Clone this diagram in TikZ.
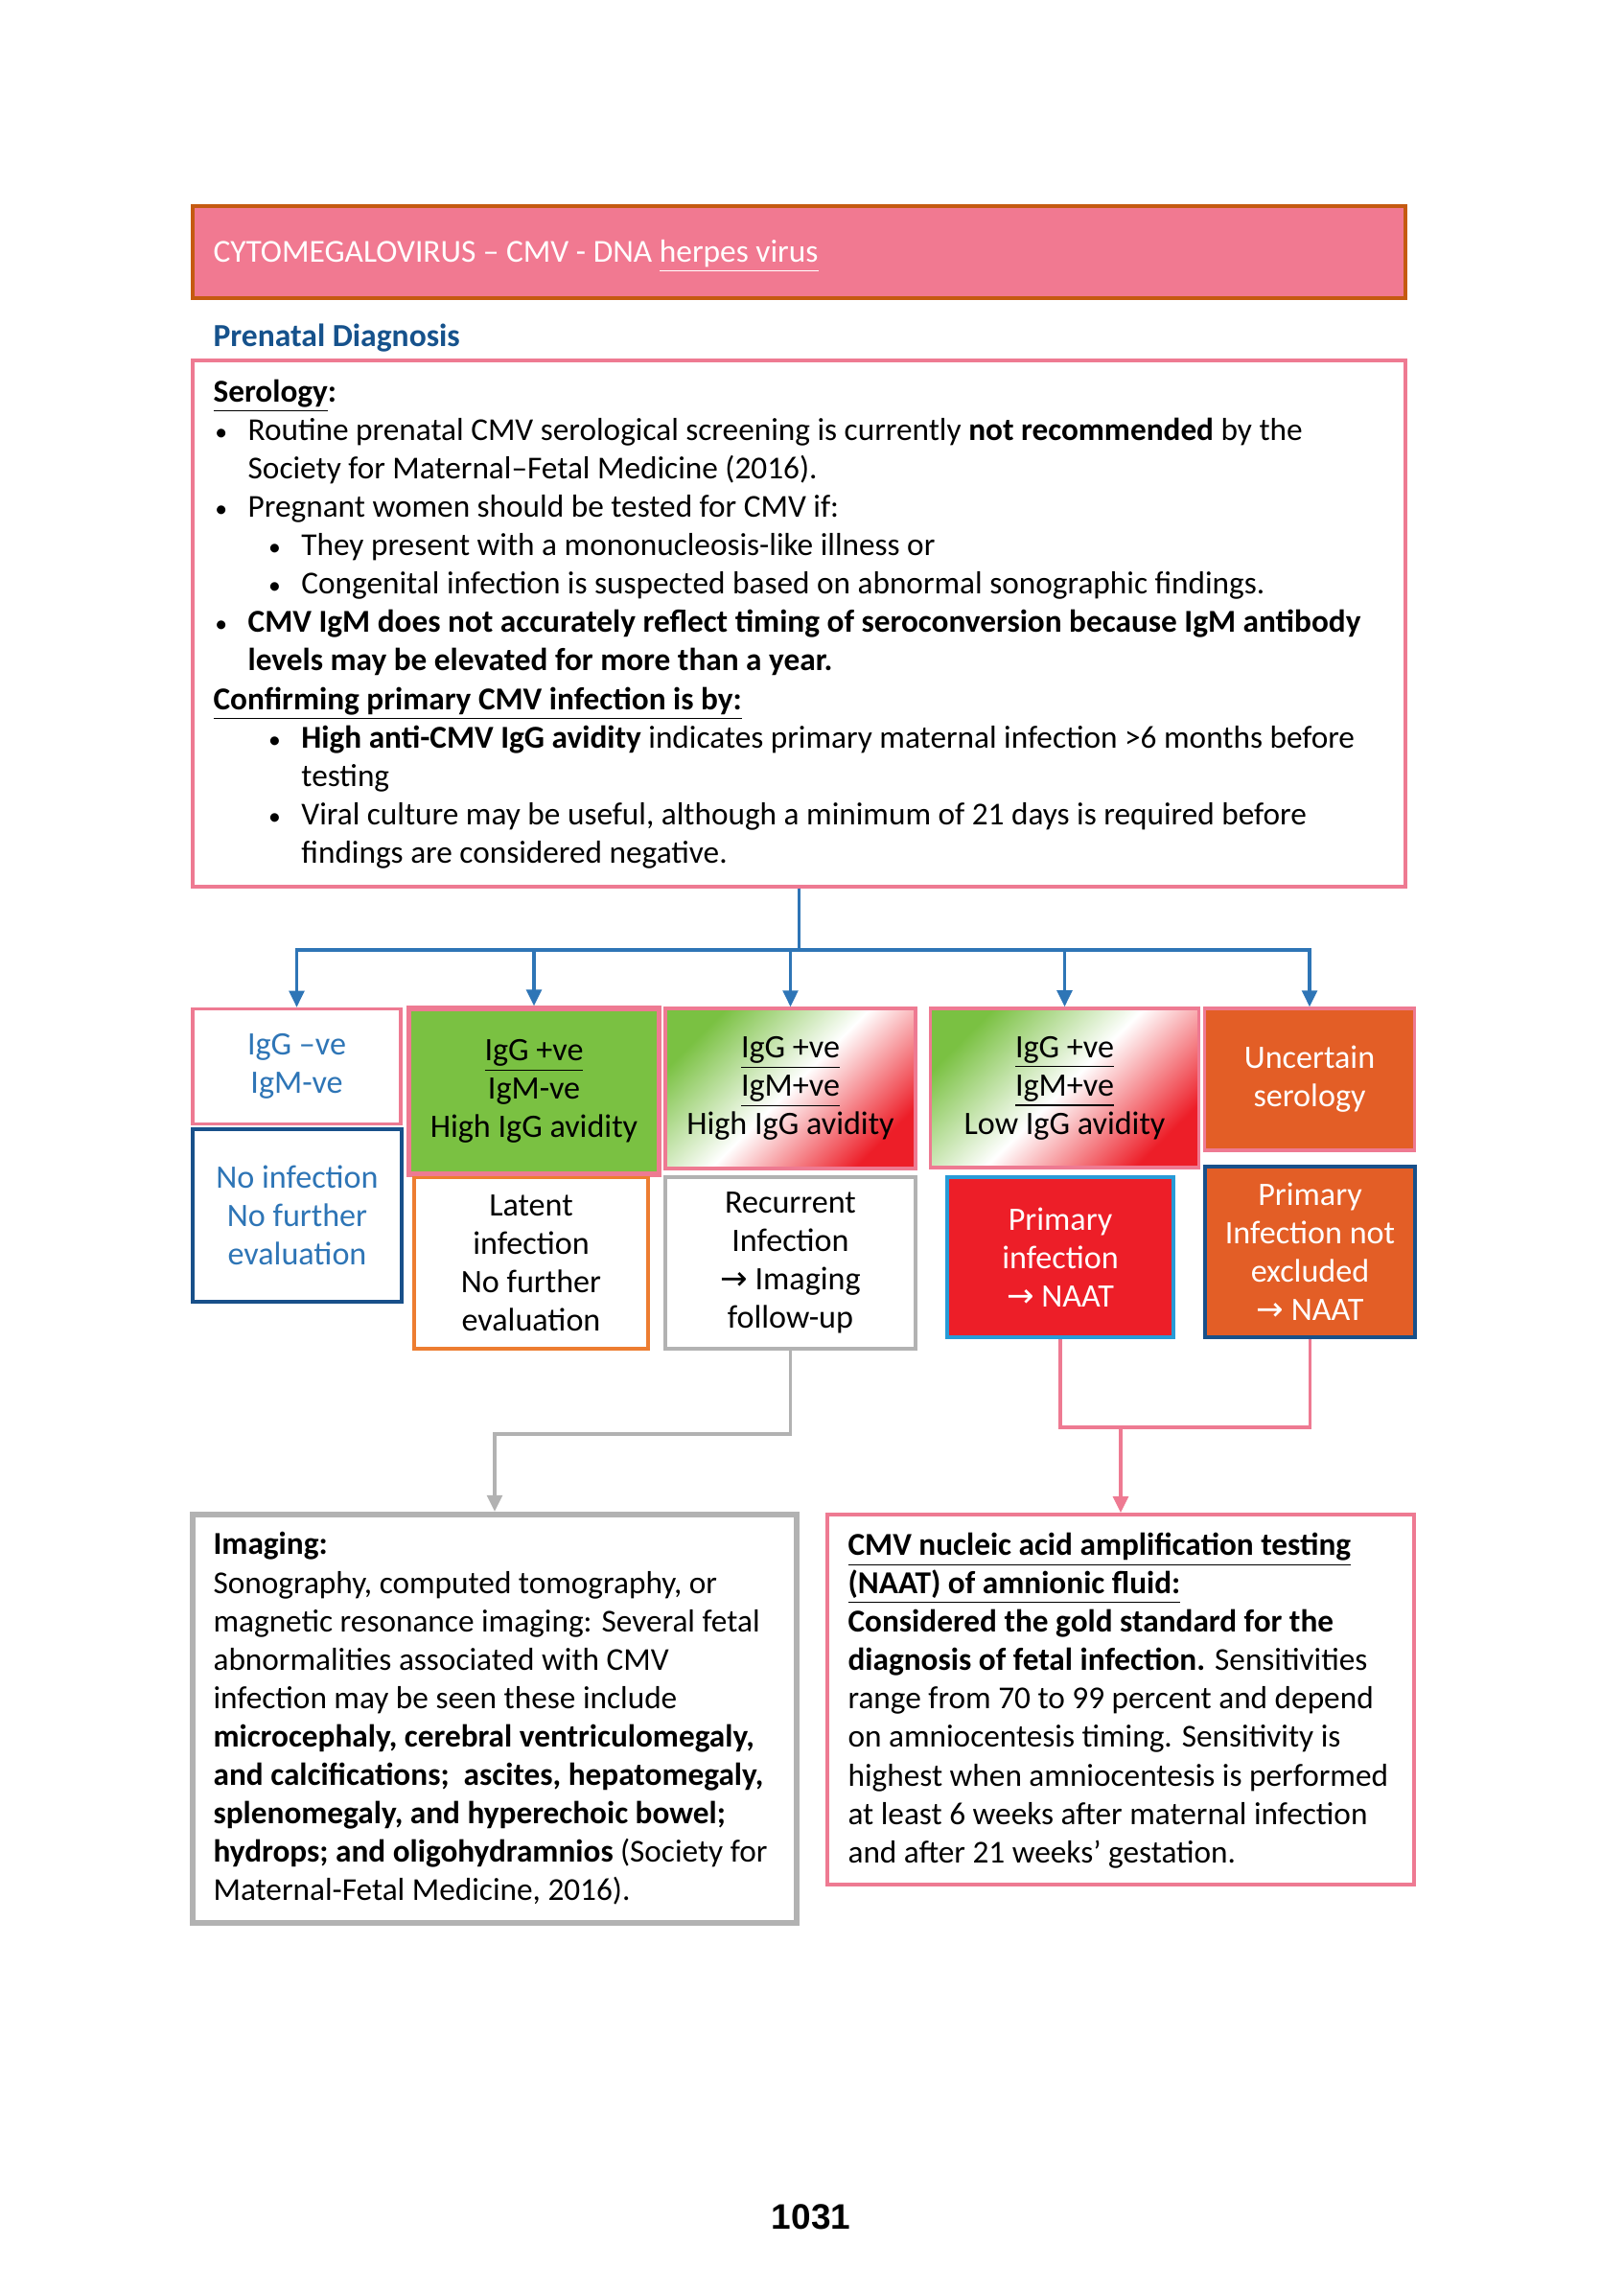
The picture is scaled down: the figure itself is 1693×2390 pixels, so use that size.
\documentclass[tikz,border=0pt]{standalone}
\usepackage{fontspec}
\setmainfont{Carlito}
\newfontfamily\arrowfont{DejaVu Sans}
\newfontfamily\pagefont{Liberation Sans}
\usetikzlibrary{arrows.meta}

\definecolor{titlepink}{RGB}{241,121,145}
\definecolor{titleedge}{RGB}{197,90,17}
\definecolor{headblue}{RGB}{22,82,140}
\definecolor{boxpink}{RGB}{238,122,146}
\definecolor{linkblue}{RGB}{46,117,182}
\definecolor{navy}{RGB}{24,80,138}
\definecolor{skyblue}{RGB}{40,155,215}
\definecolor{lime}{RGB}{122,193,66}
\definecolor{alertred}{RGB}{237,30,40}
\definecolor{burnt}{RGB}{227,94,38}
\definecolor{amber}{RGB}{237,125,49}
\definecolor{ash}{RGB}{178,178,178}

% bullets and indents for the serology text
\newcommand{\bdot}{{\fontsize{9}{9}\selectfont •}}
\newcommand{\bul}{\hspace*{0.6pt}\makebox[12.1pt][l]{\bdot}}
\newcommand{\sbul}{\hspace*{20.2pt}\makebox[12.1pt][l]{\bdot}}
\newcommand{\ind}{\hspace*{12.7pt}}
\newcommand{\sind}{\hspace*{32.3pt}}
\newcommand{\arr}{{\arrowfont →}}

\begin{document}
\begin{tikzpicture}[x=0.35161pt, y=-0.35161pt, >={Triangle[length=6pt,width=5.5pt]},
  flowbox/.style={draw, inner sep=0pt, align=center, font=\fontsize{12}{14.1}\selectfont},
  bodytext/.style={anchor=west, align=left, inner sep=0pt, font=\fontsize{11.7}{14.1}\selectfont},
  mixbox/.style={flowbox, draw=boxpink, line width=1.2pt, top color=lime, bottom color=alertred, middle color=white, shading angle=45},
  blueflow/.style={line width=1.2pt, color=linkblue},
  grayflow/.style={line width=1.3pt, color=ash},
  pinkflow/.style={line width=1.3pt, color=boxpink}]

\path[use as bounding box, fill=white] (0,0) rectangle (1693,2390);

% heading
\node[draw=titleedge, line width=1.3pt, fill=titlepink, minimum width=444.8pt, minimum height=33.8pt] (title) at (833.5,263) {};
\node[bodytext, text=white, font=\fontsize{11.75}{14.1}\selectfont] (titletxt) at (222,267) {CYTOMEGALOVIRUS – CMV - DNA \underline{herpes virus}};
\node[bodytext, text=headblue, font=\fontsize{11.8}{14.1}\selectfont\bfseries] (prenatal) at (222,353) {Prenatal Diagnosis};

% serology box
\node[draw=boxpink, line width=1.4pt, minimum width=444.8pt, minimum height=193pt] (sero) at (833.5,650.5) {};
\node[bodytext] (serotxt) at (222,651) {%
\underline{\textbf{Serology}}\textbf{:}\\
\bul Routine prenatal CMV serological screening is currently \textbf{not recommended} by the\\
\ind Society for Maternal–Fetal Medicine (2016).\\
\bul Pregnant women should be tested for CMV if:\\
\sbul They present with a mononucleosis-like illness or\\
\sbul Congenital infection is suspected based on abnormal sonographic findings.\\
\bul\textbf{CMV IgM does not accurately reflect timing of seroconversion because IgM antibody}\\
\ind\textbf{levels may be elevated for more than a year.}\\
\underline{\textbf{Confirming primary CMV infection is by:}}\\
\sbul\textbf{High anti-CMV IgG avidity} indicates primary maternal infection >6 months before\\
\sind testing\\
\sbul Viral culture may be useful, although a minimum of 21 days is required before\\
\sind findings are considered negative.};

% serology results
\node[flowbox, draw=boxpink, line width=1.2pt, text=linkblue, minimum width=76.3pt, minimum height=42.2pt] (igneg) at (309.5,1112.5) {IgG –ve\\IgM-ve};
\node[flowbox, draw=boxpink, line width=1.8pt, fill=lime, minimum width=91.8pt, minimum height=60.8pt] (highpos) at (557,1138.5) {\underline{IgG +ve}\\IgM-ve\\High IgG avidity};
\node[mixbox, minimum width=91.8pt, minimum height=58.7pt] (highmix) at (824.5,1135.5) {\underline{IgG +ve}\\\underline{IgM+ve}\\High IgG avidity};
\node[mixbox, minimum width=98.5pt, minimum height=58.4pt] (lowmix) at (1110.5,1135) {\underline{IgG +ve}\\\underline{IgM+ve}\\Low IgG avidity};
\node[flowbox, draw=boxpink, line width=1.2pt, fill=burnt, text=white, minimum width=77pt, minimum height=52pt] (unsure) at (1366,1126) {Uncertain\\serology};

% what they mean
\node[flowbox, draw=navy, line width=1.4pt, text=linkblue, minimum width=76.7pt, minimum height=63.3pt] (noinf) at (310,1268) {No infection\\No further\\evaluation};
\node[flowbox, draw=amber, line width=1.1pt, minimum width=85.8pt, minimum height=62.9pt] (latent) at (554,1317.5) {Latent\\infection\\No further\\evaluation};
\node[flowbox, draw=ash, line width=1.2pt, minimum width=91.8pt, minimum height=62.9pt] (recur) at (824.5,1317.5) {Recurrent\\Infection\\\arr{} Imaging\\follow-up};
\node[flowbox, draw=skyblue, line width=1.3pt, fill=alertred, text=white, minimum width=83pt, minimum height=58.7pt] (prim) at (1106,1311.5) {Primary\\infection\\\arr{} NAAT};
\node[flowbox, draw=navy, line width=1.4pt, fill=burnt, text=white, minimum width=77pt, minimum height=62.6pt] (notex) at (1366.5,1306) {Primary\\Infection not\\excluded\\\arr{} NAAT};

% follow-up boxes
\node[draw=ash, line width=2.2pt, minimum width=221.5pt, minimum height=149.8pt] (imaging) at (516,1793) {};
\node[bodytext] (imagingtxt) at (222,1793) {%
\textbf{Imaging:}\\
Sonography, computed tomography, or\\
magnetic resonance imaging: Several fetal\\
abnormalities associated with CMV\\
infection may be seen these include\\
\textbf{microcephaly, cerebral ventriculomegaly,}\\
\textbf{and calcifications;\ \ ascites, hepatomegaly,}\\
\textbf{splenomegaly, and hyperechoic bowel;}\\
\textbf{hydrops; and oligohydramnios} (Society for\\
Maternal-Fetal Medicine, 2016).};

\node[draw=boxpink, line width=1.3pt, minimum width=215.2pt, minimum height=135.7pt] (naat) at (1169,1773) {};
\node[bodytext] (naattxt) at (884,1774) {%
\underline{\textbf{CMV nucleic acid amplification testing}}\\
\underline{\textbf{(NAAT) of amnionic fluid:}}\\
\textbf{Considered the gold standard for the}\\
\textbf{diagnosis of fetal infection.} Sensitivities\\
range from 70 to 99 percent and depend\\
on amniocentesis timing. Sensitivity is\\
highest when amniocentesis is performed\\
at least 6 weeks after maternal infection\\
and after 21 weeks’ gestation.};

\node[anchor=base, inner sep=0pt, font=\pagefont\bfseries\fontsize{13}{15}\selectfont] (pagenum) at (846,2325) {1031};

% serology -> results
\foreach \b in {igneg,highpos,highmix,lowmix,unsure}
  \draw[blueflow,->] (sero.south) -- ++(0,64) -| (\b.north);

% recurrent -> imaging
\draw[grayflow,->] (recur.south) -- ++(0,87) -| (imaging.north);

% primary / not excluded -> NAAT
\draw[pinkflow] (prim.south) -- ++(0,92) coordinate (pj) -| (notex.south);
\draw[pinkflow,->] (pj -| naat.north) -- (naat.north);

\end{tikzpicture}
\end{document}
